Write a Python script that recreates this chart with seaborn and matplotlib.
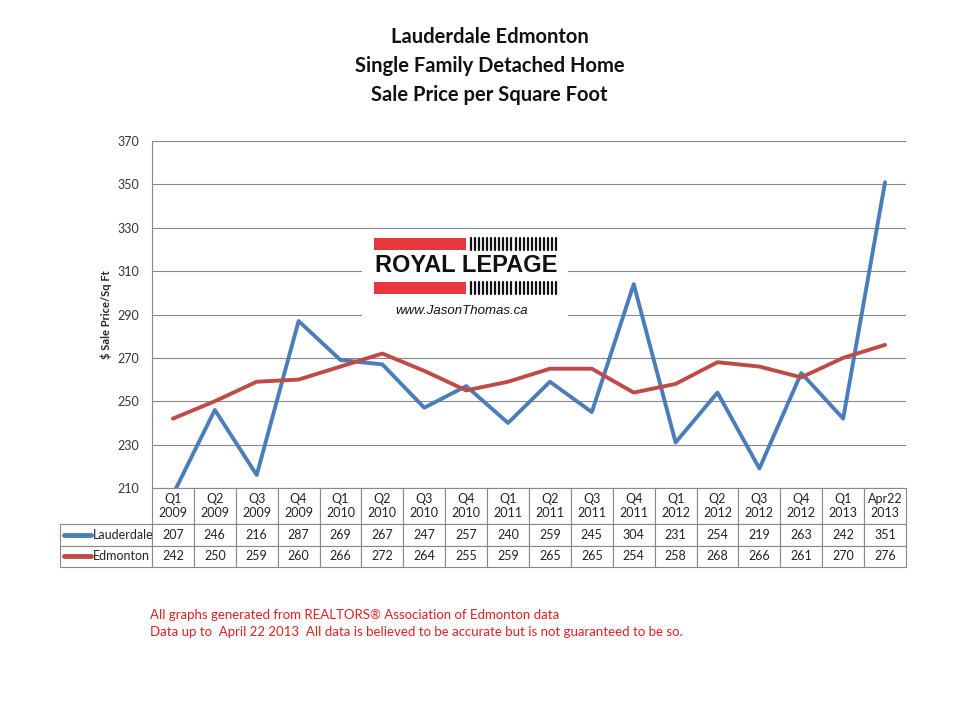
import numpy as np
import pandas as pd
import matplotlib
matplotlib.use("Agg")
import matplotlib.pyplot as plt
import seaborn as sns
from matplotlib.patches import Rectangle
from matplotlib.lines import Line2D

# chart data
periods = ["Q1\n2009", "Q2\n2009", "Q3\n2009", "Q4\n2009",
           "Q1\n2010", "Q2\n2010", "Q3\n2010", "Q4\n2010",
           "Q1\n2011", "Q2\n2011", "Q3\n2011", "Q4\n2011",
           "Q1\n2012", "Q2\n2012", "Q3\n2012", "Q4\n2012",
           "Q1\n2013", "Apr22\n2013"]
lauderdale = [207, 246, 216, 287, 269, 267, 247, 257, 240, 259, 245, 304, 231, 254, 219, 263, 242, 351]
edmonton = [242, 250, 259, 260, 266, 272, 264, 255, 259, 265, 265, 254, 258, 268, 266, 261, 270, 276]
series_names = ["Lauderdale", "Edmonton"]
series_colors = ["#4a7ebb", "#be4b48"]
y_ticks = [210, 230, 250, 270, 290, 310, 330, 350, 370]

title_lines = ["Lauderdale Edmonton", "Single Family Detached Home", "Sale Price per Square Foot"]
footer_lines = ["All graphs generated from REALTORS\u00ae Association of Edmonton data",
                "Data up to  April 22 2013  All data is believed to be accurate but is not guaranteed to be so."]

sns.set_theme(style="white")
plt.rcParams['font.family'] = ['Lato', 'DejaVu Sans']

W, H = 960, 720
def fx(x):
    return x / W
def fy(y):
    return 1 - y / H

df = pd.DataFrame({
    "pos": list(range(len(periods))) * 2,
    "value": lauderdale + edmonton,
    "series": [series_names[0]] * len(periods) + [series_names[1]] * len(periods),
})

ax_w, ax_h = 754, 347
lab_w = 92
fig = plt.figure(figsize=(9.6, 7.2), dpi=100)
ax = fig.add_axes([fx(152), fy(488), fx(906) - fx(152), fy(141) - fy(488)])

sns.lineplot(data=df, x="pos", y="value", hue="series", palette=series_colors,
             hue_order=series_names, linewidth=2.8, sort=False, legend=False, ax=ax)

ax.set_xlim(-0.5, len(periods) - 0.5)
ax.set_ylim(210, 370)
ax.set_yticks(y_ticks)
ax.set_xticks([])
ax.set_xlabel("")
ax.set_ylabel("$ Sale Price/Sq Ft", fontsize=8, fontweight="bold", labelpad=4)
ax.tick_params(axis="y", labelsize=9, colors="#333333", length=4, width=0.8, color="#868686", pad=5)
ax.grid(axis="y", color="#868686", linewidth=0.8)
ax.set_axisbelow(True)
for s in ["top", "right", "bottom"]:
    ax.spines[s].set_visible(False)
ax.spines["left"].set_color("#868686")
ax.spines["left"].set_linewidth(0.8)

# data table under the chart, first column holds the series names
cell_text = [[n] + [str(v) for v in vals]
             for n, vals in zip(series_names, [lauderdale, edmonton])]
col_widths = [lab_w / ax_w] + [1 / len(periods)] * len(periods)
tbl = ax.table(cellText=cell_text, colLabels=[""] + periods, cellLoc="center",
               colWidths=col_widths,
               bbox=[-lab_w / ax_w, -79 / ax_h, 1 + lab_w / ax_w, 79 / ax_h])
tbl.auto_set_font_size(False)
tbl.set_fontsize(9)
for (r, c), cell in tbl.get_celld().items():
    cell.set_edgecolor("#888888")
    cell.set_linewidth(0.8)
    cell.set_height((36 if r == 0 else 21.5) / ax_h)
    cell.get_text().set_color("#222222")
    if c == 0:
        if r == 0:
            cell.visible_edges = ""
        else:
            cell.get_text().set_ha("left")
            cell.get_text().set_x(0)
            cell._loc = "left"
            cell.PAD = 0.36

# legend keys in the row label cells
for i, col in enumerate(series_colors):
    yc = fy(524 + 21.5 * i + 10.75)
    fig.add_artist(Line2D([fx(64), fx(91)], [yc, yc], color=col, linewidth=3.5,
                          solid_capstyle="round", transform=fig.transFigure))

# title
for i, t in enumerate(title_lines):
    fig.text(0.51, fy(37 + 29 * i), t, ha="center", va="center",
             fontsize=14.5, fontweight="bold", color="#111111")

# logo block
fig.add_artist(Rectangle((fx(362), fy(322)), fx(568) - fx(362), fy(232) - fy(322),
                         facecolor="white", edgecolor="none", transform=fig.transFigure, zorder=3))
for y0, y1 in [(238, 250), (282, 294)]:
    fig.add_artist(Rectangle((fx(374), fy(y1)), fx(466) - fx(374), fy(y0) - fy(y1),
                             facecolor="#e8363c", edgecolor="none", transform=fig.transFigure, zorder=4))
    for xs in np.linspace(471, 556, 22):
        fig.add_artist(Line2D([fx(xs), fx(xs)], [fy(y1), fy(y0)], color="#111111",
                              linewidth=1.6, transform=fig.transFigure, zorder=4))
fig.text(fx(466), fy(266), "ROYAL LEPAGE", ha="center", va="center", fontsize=17,
         fontweight="black", color="#111111", zorder=5, family=["Liberation Sans", "DejaVu Sans"])
fig.text(fx(462), fy(311), "www.JasonThomas.ca", ha="center", va="center", fontsize=9.5,
         style="italic", color="#111111", zorder=5, family=["Liberation Sans", "DejaVu Sans"])

# footer
for i, t in enumerate(footer_lines):
    fig.text(fx(150), fy(615 + 17 * i), t, ha="left", va="center", fontsize=9.5, color="#e02020")

fig.savefig("out.png", dpi=100, facecolor="white")
